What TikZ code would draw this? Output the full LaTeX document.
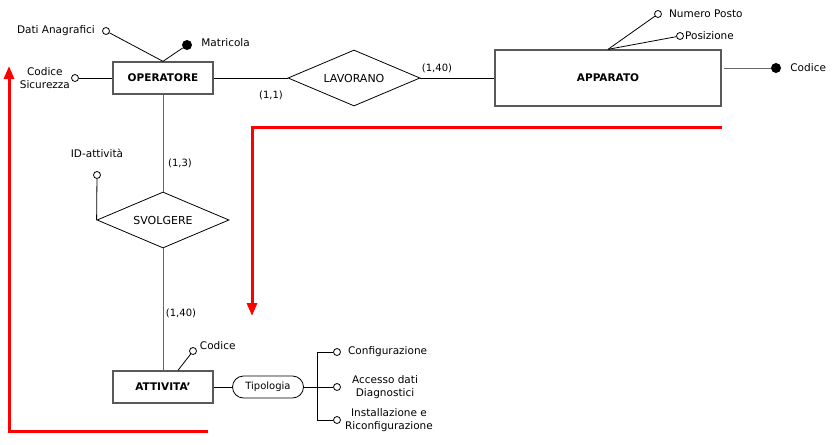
\documentclass[tikz,border=0pt]{standalone}
\usepackage{fontspec}
\setmainfont{DejaVu Sans}
\usepackage{tikz}
\usetikzlibrary{calc}
\usetikzlibrary{shapes}
\usetikzlibrary{positioning}
\usetikzlibrary{arrows.meta}
\tikzset{
  entita/.style={draw=black!65,line width=1.3pt,fill=white,minimum width=100pt,minimum height=32pt,inner sep=1pt,font=\fontsize{10.5}{12}\selectfont\bfseries},
  relaz/.style={diamond,draw,line width=0.8pt,aspect=2.4,inner sep=0pt,minimum width=132pt,minimum height=56pt,font=\fontsize{11}{12}\selectfont},
  tipo/.style={draw,line width=0.8pt,rounded corners=11pt,minimum width=71pt,minimum height=22pt,inner sep=1pt,font=\fontsize{10}{12}\selectfont},
  attr/.style={circle,draw,line width=0.8pt,fill=white,inner sep=0pt,minimum size=7pt},
  chiave/.style={circle,fill,inner sep=0pt,minimum size=10pt},
  lbl/.style={inner sep=1pt,font=\fontsize{10.5}{13}\selectfont},
  card/.style={inner sep=0pt,font=\fontsize{10}{12}\selectfont},
  collega/.style={line width=0.8pt},
  freccia/.style={red,line width=3pt,-{Triangle[length=13pt,width=10pt]}}
}
\newcommand{\cardinal}[3]{\node[card] at (#1,#2) {#3};}

\begin{document}
\begin{tikzpicture}[x=1pt,y=-1pt]
    \useasboundingbox (0,0) rectangle (834,444);
    %entita e relazioni
    \node[entita] (operatore) at (163,78) {OPERATORE};
    \node[relaz] (lavorano) at (354,78) {LAVORANO};
    \node[entita,minimum width=226pt,minimum height=56pt] (apparato) at (608,78) {APPARATO};
    \node[relaz] (svolgere) at (163,220) {SVOLGERE};
    \node[entita] (attivita) at (163,387) {ATTIVITA'};
    \node[tipo] (tipologia) at (268,387) {Tipologia};

    \draw[collega] (operatore) -- (lavorano) -- (apparato);
    \draw[collega,black!60] (operatore) -- (svolgere) -- (attivita);
    \draw[collega] (attivita) -- (tipologia);

    %attributi operatore
    \node[attr] (datianag) at (106,31) {};
    \node[lbl,left=6pt of datianag] (tdatianag) {Dati Anagrafici};
    \node[chiave] (matricola) at (187,45) {};
    \node[lbl,right=8pt of matricola,yshift=2pt] (tmatricola) {Matricola};
    \node[attr] (codsic) at (75,78) {};
    \node[lbl,left=0pt of codsic,align=center] (tcodsic) {Codice\\Sicurezza};
    \draw[collega] (operatore.north) -- (datianag);
    \draw[collega] (operatore.north) -- (matricola);
    \draw[collega] (operatore) -- (codsic);

    %attributi apparato
    \node[attr] (numposto) at (658,14) {};
    \node[lbl,right=6pt of numposto] (tnumposto) {Numero Posto};
    \node[attr] (posizione) at (680,36) {};
    \node[lbl,right=0pt of posizione] (tposizione) {Posizione};
    \node[chiave] (codapp) at (776,68) {};
    \node[lbl,right=8pt of codapp] (tcodapp) {Codice};
    \draw[collega] (apparato.north) -- (numposto);
    \draw[collega] (apparato.north) -- (posizione);
    \draw[collega,black!60] ($(apparato.east)+(2,-10)$) -- (codapp);

    %attributi svolgere e attivita
    \node[attr] (idatt) at (97,175) {};
    \node[lbl,above=12pt of idatt] (tidatt) {ID-attività};
    \draw[collega] (idatt) -- (svolgere.west);
    \node[attr] (codatt) at (193,351) {};
    \node[lbl,above right=-3pt and 3pt of codatt] (tcodatt) {Codice};
    \draw[collega] ($(attivita.north)+(15,0)$) -- (codatt);

    %tipologie
    \coordinate (snodo) at ($(tipologia.east)+(13,0)$);
    \node[attr] (conf) at (337,352) {};
    \node[attr] (accesso) at (337,387) {};
    \node[attr] (install) at (337,420) {};
    \node[lbl,right=6pt of conf] (tconf) {Configurazione};
    \node[lbl,right=10pt of accesso,align=center] (taccesso) {Accesso dati\\Diagnostici};
    \node[lbl,right=3pt of install,align=center] (tinstall) {Installazione e\\Riconfigurazione};
    \draw[collega] (tipologia) -- (snodo);
    \draw[collega] (snodo |- conf) -- (snodo |- install);
    \foreach \ramo in {conf,accesso,install}
        \draw[collega] (snodo |- \ramo) -- (\ramo);

    %cardinalita
    \cardinal{271}{95}{(1,1)}
    \cardinal{437}{68}{(1,40)}
    \cardinal{180}{163}{(1,3)}
    \cardinal{181}{313}{(1,40)}

    %frecce rosse
    \coordinate (rosso1) at (208,431);
    \coordinate (rosso1b) at (9,66);
    \coordinate (rosso2) at (722,127);
    \coordinate (rosso2b) at (252,316);
    \draw[freccia] (rosso1) -| (rosso1b);
    \draw[freccia] (rosso2) -| (rosso2b);
\end{tikzpicture}
\end{document}
